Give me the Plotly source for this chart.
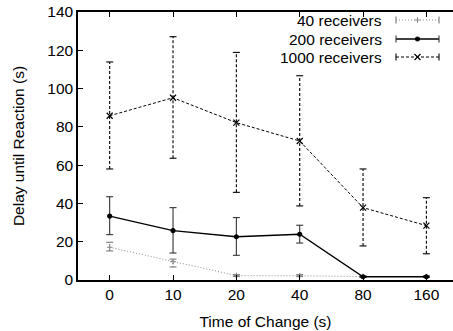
import plotly.graph_objects as go

categories = ["0", "10", "20", "40", "80", "160"]

r40_mean = [17.1, 9.6, 2.3, 2.2, 1.8, 1.8]
r40_lo = [15.2, 6.8, 1.8, 1.8, 1.5, 1.5]
r40_hi = [19.7, 10.9, 2.8, 2.8, 2.1, 2.1]

r200_mean = [33.4, 25.8, 22.6, 23.9, 1.7, 1.7]
r200_lo = [23.7, 14.1, 12.9, 19.3, 1.4, 1.4]
r200_hi = [43.5, 37.8, 32.6, 28.6, 2.0, 2.0]

r1000_mean = [85.8, 95.2, 82.2, 72.6, 37.8, 28.4]
r1000_lo = [58.0, 63.6, 45.8, 38.7, 17.8, 13.7]
r1000_hi = [113.9, 127.1, 118.9, 106.7, 58.0, 43.0]

series = [
    ("40 receivers", r40_mean, r40_lo, r40_hi, "#8c8c8c", "1px,2px", 1.0, "cross-thin", 4, "#777777"),
    ("200 receivers", r200_mean, r200_lo, r200_hi, "#000000", "solid", 1.3, "circle", 4, "#333333"),
    ("1000 receivers", r1000_mean, r1000_lo, r1000_hi, "#000000", "3px,2px", 1.0, "x-thin", 6, "#000000"),
]

FONT = "Liberation Sans, Arial, sans-serif"
FS = 15.5

fig = go.Figure()
idx = list(range(len(categories)))

for name, mean, lo, hi, col, dash, w, sym, ms, ecol in series:
    ex, ey = [], []
    for i in idx:
        ex += [i, i, None]
        ey += [lo[i], hi[i], None]
    fig.add_trace(go.Scatter(x=ex, y=ey, mode="lines",
                             line=dict(color=ecol, width=1.1, dash=dash),
                             showlegend=False, hoverinfo="skip"))
    fig.add_trace(go.Scatter(x=idx + idx, y=lo + hi, mode="markers",
                             marker=dict(symbol="line-ew", size=5, line=dict(color=ecol, width=1.1)),
                             showlegend=False, hoverinfo="skip"))
    fig.add_trace(go.Scatter(x=idx, y=mean, mode="lines+markers", name=name,
                             line=dict(color=col, width=w, dash=dash),
                             marker=dict(symbol=sym, size=ms, color=col,
                                         line=dict(color=col, width=1.2)),
                             showlegend=False))

legend_rows = [20, 39, 57]
for (name, mean, lo, hi, col, dash, w, sym, ms, ecol), yrow in zip(series, legend_rows):
    fig.add_trace(go.Scatter(x=[396, 439], y=[yrow, yrow], xaxis="x2", yaxis="y2",
                             mode="lines+markers",
                             line=dict(color=col, width=w, dash=dash),
                             marker=dict(symbol="line-ns", size=5, line=dict(color=ecol, width=1.1)),
                             showlegend=False, hoverinfo="skip"))
    fig.add_trace(go.Scatter(x=[417.5], y=[yrow], xaxis="x2", yaxis="y2", mode="markers",
                             marker=dict(symbol=sym, size=ms, color=col, line=dict(color=col, width=1.2)),
                             showlegend=False, hoverinfo="skip"))
    fig.add_annotation(x=384, y=yrow, xref="x2", yref="y2", text=name, showarrow=False,
                       xanchor="right", yanchor="middle", font=dict(family=FONT, size=FS, color="black"))

fig.update_layout(
    width=453, height=331,
    margin=dict(l=78, r=0, t=12, b=51, autoexpand=False),
    paper_bgcolor="white", plot_bgcolor="white",
    font=dict(family=FONT, size=FS, color="black"),
    showlegend=False,
    hovermode=False,
    xaxis=dict(
        range=[-0.5, 5.42], tickmode="array", tickvals=idx, ticktext=categories,
        ticks="inside", ticklen=5, tickwidth=1, tickcolor="black",
        showline=True, linecolor="black", linewidth=1.5, mirror="ticks",
        showgrid=False, zeroline=False, automargin=False,
        title=dict(text="Time of Change (s)", standoff=14, font=dict(family=FONT, size=FS)),
        tickfont=dict(family=FONT, size=FS),
    ),
    yaxis=dict(
        range=[0, 140], tickvals=[0, 20, 40, 60, 80, 100, 120, 140],
        ticks="inside", ticklen=5, tickwidth=1, tickcolor="black",
        showline=True, linecolor="black", linewidth=1.5, mirror=False,
        showgrid=False, zeroline=False, automargin=False,
        title=dict(text="Delay until Reaction (s)", standoff=19, font=dict(family=FONT, size=FS)),
        tickfont=dict(family=FONT, size=FS),
    ),
    xaxis2=dict(overlaying="x", range=[78, 453], visible=False, fixedrange=True),
    yaxis2=dict(overlaying="y", range=[280, 12], visible=False, fixedrange=True),
)

fig.write_html("out.html", config={"displayModeBar": False},
               post_script="document.body.style.margin='0';")
